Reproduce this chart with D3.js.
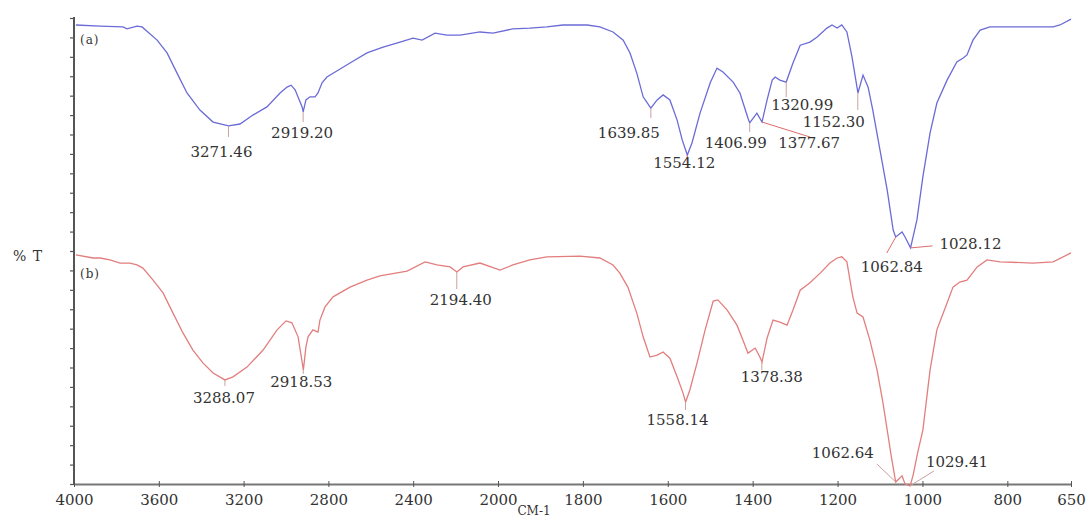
<!DOCTYPE html>
<html>
<head>
<meta charset="utf-8">
<script src="https://cdn.jsdelivr.net/npm/d3@7"></script>
<style>
  body { margin: 0; background: #fff; }
  svg { display: block; }
  .lbl { font-family: "DejaVu Serif", serif; font-size: 15px; fill: #333; }
</style>
</head>
<body>
<script>
// spectrum (a) - wavenumber, %T
var seriesA = [
  [3991,118.2],[3877,117.9],[3769,117.7],[3750,117.2],[3703,117.9],[3679,117.7],[3608,114.3],[3561,111.0],
  [3514,105.8],[3467,100.7],[3406,96.3],[3344,93.2],[3271,92.2],[3217,92.7],[3156,95.0],[3090,97.1],
  [3028,100.7],[2995,102.2],[2976,102.7],[2957,101.5],[2924,97.1],[2919,95.8],[2906,98.9],[2887,99.7],
  [2863,99.7],[2849,100.7],[2830,103.3],[2807,104.8],[2698,108.4],[2618,111.0],[2542,112.5],[2462,113.8],
  [2401,114.8],[2358,114.3],[2297,116.1],[2241,115.6],[2179,115.6],[2085,116.4],[2024,116.1],[1965,117.2],
  [1925,117.4],[1885,117.7],[1847,118.2],[1790,118.2],[1760,117.7],[1729,116.4],[1705,114.3],[1689,111.0],
  [1673,105.8],[1658,99.7],[1640,96.8],[1625,98.9],[1611,100.2],[1595,98.9],[1578,93.7],[1566,88.6],
  [1554,84.7],[1543,87.8],[1524,95.5],[1500,103.3],[1484,107.1],[1470,106.1],[1446,103.5],[1430,100.7],
  [1411,94.2],[1407,93.0],[1390,95.5],[1378,93.2],[1366,98.9],[1354,104.0],[1347,104.8],[1336,104.0],
  [1321,103.5],[1305,108.4],[1288,113.0],[1265,113.8],[1248,115.1],[1225,117.4],[1213,118.2],[1201,117.4],
  [1190,118.2],[1178,116.4],[1166,110.0],[1152,100.7],[1140,105.3],[1128,102.2],[1117,96.3],[1100,86.0],
  [1083,75.7],[1069,65.4],[1063,63.6],[1048,64.9],[1041,63.6],[1028,60.8],[1013,68.0],[999,79.1],
  [982,90.4],[966,98.1],[942,104.0],[919,108.7],[904,109.7],[895,110.5],[881,114.3],[864,116.9],
  [841,117.7],[777,117.7],[692,117.7],[676,118.2],[650,119.7]
];

// spectrum (b)
var seriesB = [
  [3991,59.0],[3910,58.2],[3877,58.2],[3830,57.7],[3783,56.9],[3736,56.9],[3703,56.4],[3675,55.6],
  [3627,52.5],[3580,49.2],[3533,44.0],[3486,38.9],[3439,34.5],[3392,31.2],[3344,28.6],[3288,26.8],
  [3250,27.6],[3184,30.1],[3108,34.5],[3042,39.7],[3000,42.0],[2972,41.5],[2943,37.9],[2918,29.4],
  [2906,35.3],[2896,37.9],[2873,39.7],[2849,39.1],[2840,42.2],[2816,45.6],[2778,48.2],[2698,50.7],
  [2618,52.5],[2557,53.6],[2429,54.8],[2344,57.2],[2288,56.4],[2226,55.9],[2194,54.6],[2165,55.9],
  [2085,56.9],[1995,55.1],[1965,56.4],[1925,57.7],[1885,58.5],[1807,58.7],[1760,58.2],[1729,56.4],
  [1713,54.3],[1694,50.7],[1673,44.0],[1658,37.9],[1642,32.7],[1625,33.2],[1611,34.0],[1595,32.4],
  [1578,27.6],[1564,23.4],[1558,21.1],[1548,24.2],[1531,31.2],[1512,39.7],[1493,47.1],[1482,47.4],
  [1460,44.8],[1437,40.9],[1423,37.1],[1411,33.7],[1394,35.0],[1383,32.7],[1378,31.4],[1366,37.6],
  [1352,42.2],[1336,41.7],[1319,40.9],[1305,44.8],[1288,49.9],[1265,51.8],[1241,54.3],[1218,56.9],
  [1201,58.2],[1190,58.5],[1178,57.2],[1164,48.2],[1154,44.0],[1140,43.0],[1124,37.1],[1107,29.4],
  [1093,20.9],[1083,13.9],[1074,7.5],[1063,0.5],[1048,2.1],[1041,0],[1029,-0.5],[1022,2.3],
  [1011,8.2],[999,13.9],[982,29.4],[966,39.7],[942,46.6],[928,50.7],[912,52.0],[895,52.5],
  [871,55.9],[848,57.7],[817,57.2],[740,56.9],[692,57.2],[650,59.5]
];

var xTicks = [4000, 3600, 3200, 2800, 2400, 2000, 1800, 1600, 1400, 1200, 1000, 800, 650];

// peak labels
var peaksA = ["3271.46","2919.20","1639.85","1554.12","1406.99","1377.67","1320.99","1152.30","1062.84","1028.12"];
var peaksB = ["3288.07","2918.53","2194.40","1558.14","1378.38","1062.64","1029.41"];

// label layout: leader end (lx,ly) and text (tx,ty) relative to the point on the curve
var layoutA = [
  {lx:0,ly:11,tx:-7,ty:31}, {lx:0,ly:10,tx:-1,ty:26}, {lx:0,ly:10,tx:-22,ty:30},
  {lx:0,ly:10,tx:-3,ty:13,red:true}, {lx:0,ly:9,tx:-14,ty:25}, {lx:48,ly:15,tx:47,ty:26,red:true},
  {lx:0,ly:15,tx:16,ty:28}, {lx:0,ly:17,tx:-24,ty:34}, {lx:-9,ly:16,tx:-4,ty:35,red:true},
  {lx:22,ly:-2,tx:60,ty:1,red:true}
];
var layoutB = [
  {lx:0,ly:6,tx:-1,ty:23}, {lx:0,ly:4,tx:-2,ty:17}, {lx:0,ly:17,tx:4,ty:33},
  {lx:0,ly:8,tx:-8,ty:23}, {lx:0,ly:8,tx:10,ty:20}, {lx:-19,ly:-18,tx:-53,ty:-24},
  {lx:24,ly:-15,tx:47,ty:-19}
];

var W = 1086, H = 517;
var svg = d3.select("body").append("svg").attr("width", W).attr("height", H);

// the wavenumber axis changes scale at 2000
var x = d3.scaleLinear().domain([4000, 2000, 650]).range([74, 498, 1071]);
var y = d3.scaleLinear().domain([0, 120]).range([484, 18]);

// y axis, no labels
svg.append("g")
    .attr("transform", "translate(74,0)")
    .call(d3.axisLeft(y).tickValues(d3.range(0, 121, 5)).tickSize(4).tickFormat(""))
    .call(function(g) {
      g.select(".domain").attr("stroke", "#555").attr("stroke-width", 2).attr("d", "M0,17V484");
      g.selectAll(".tick line").attr("stroke", "#555").attr("stroke-width", 1.2);
    });

// x axis
var xa = svg.append("g")
    .attr("transform", "translate(0,484)")
    .call(d3.axisBottom(x).tickValues(xTicks).tickSize(3).tickSizeOuter(0).tickFormat(d3.format("d")));
xa.select(".domain").attr("stroke", "#777").attr("stroke-width", 2);
xa.selectAll(".tick line").attr("stroke", "#555").attr("y1", -3).attr("y2", 3);
xa.selectAll(".tick text")
    .attr("class", "lbl").attr("y", 21).attr("dy", 0)
    .style("font-size", "15px").style("fill", "#333");

svg.append("text").attr("class", "lbl").attr("x", 534).attr("y", 515)
    .attr("text-anchor", "middle").style("font-size", "12px").text("CM-1");

svg.append("text").attr("class", "lbl").attr("x", 13).attr("y", 261)
    .style("font-size", "14px").style("letter-spacing", "1px").text("% T");

var line = d3.line()
    .x(function(d) { return x(d[0]); })
    .y(function(d) { return y(d[1]); });

svg.append("path").datum(seriesA)
    .attr("fill", "none").attr("stroke", "#6b6bd8").attr("stroke-width", 1.3)
    .attr("d", line);
svg.append("path").datum(seriesB)
    .attr("fill", "none").attr("stroke", "#e27e7e").attr("stroke-width", 1.3)
    .attr("d", line);

svg.append("text").attr("class", "lbl").attr("x", 80).attr("y", 44)
    .style("font-size", "12px").style("letter-spacing", "1px").text("(a)");
svg.append("text").attr("class", "lbl").attr("x", 80).attr("y", 278)
    .style("font-size", "12px").style("letter-spacing", "1px").text("(b)");

// value on a series nearest to a wavenumber
function valueAt(series, wn) {
  var best = series[0];
  series.forEach(function(d) {
    if (Math.abs(d[0] - wn) < Math.abs(best[0] - wn)) best = d;
  });
  return best[1];
}

function annotate(series, peaks, layout) {
  peaks.forEach(function(p, i) {
    var wn = +p, L = layout[i];
    var px = x(wn), py = y(valueAt(series, wn));
    svg.append("line")
        .attr("x1", px).attr("y1", py)
        .attr("x2", px + L.lx).attr("y2", py + L.ly)
        .attr("stroke", L.red ? "#e06b6b" : "#c9a0a0").attr("stroke-width", 1);
    svg.append("text").attr("class", "lbl")
        .attr("x", px + L.tx).attr("y", py + L.ty)
        .attr("text-anchor", "middle")
        .text(p);
  });
}

annotate(seriesA, peaksA, layoutA);
annotate(seriesB, peaksB, layoutB);
</script>
</body>
</html>
